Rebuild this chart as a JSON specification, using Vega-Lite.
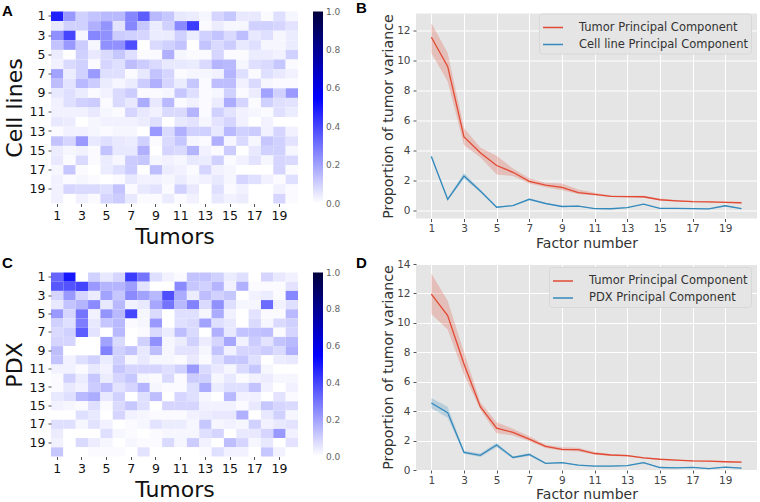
{"$schema":"https://vega.github.io/schema/vega-lite/v6.json","padding":{"left":2,"top":0.5,"right":0,"bottom":0},"background":"white","spacing":15,
"config":{"font":"DejaVu Sans","view":{"stroke":null}},
"datasets":{
"a":[
{"r":1,"t":1,"v":0.48},{"r":1,"t":2,"v":0.22},{"r":1,"t":3,"v":0.1},{"r":1,"t":4,"v":0.13},{"r":1,"t":5,"v":0.15},{"r":1,"t":6,"v":0.15},{"r":1,"t":7,"v":0.26},{"r":1,"t":8,"v":0.35},{"r":1,"t":9,"v":0.15},{"r":1,"t":10,"v":0.12},{"r":1,"t":11,"v":0.05},{"r":1,"t":12,"v":0.04},{"r":1,"t":13,"v":0.02},{"r":1,"t":14,"v":0.09},{"r":1,"t":15,"v":0.12},{"r":1,"t":16,"v":0.05},{"r":1,"t":17,"v":0.05},{"r":1,"t":18,"v":0.01},{"r":1,"t":19,"v":0.07},{"r":1,"t":20,"v":0.02},
{"r":2,"t":1,"v":0.05},{"r":2,"t":2,"v":0.1},{"r":2,"t":3,"v":0.1},{"r":2,"t":4,"v":0.17},{"r":2,"t":5,"v":0.23},{"r":2,"t":6,"v":0.06},{"r":2,"t":7,"v":0.26},{"r":2,"t":8,"v":0.12},{"r":2,"t":9,"v":0.04},{"r":2,"t":10,"v":0.1},{"r":2,"t":11,"v":0.25},{"r":2,"t":12,"v":0.42},{"r":2,"t":13,"v":0.01},{"r":2,"t":14,"v":0.04},{"r":2,"t":15,"v":0.02},{"r":2,"t":16,"v":0.02},{"r":2,"t":17,"v":0.1},{"r":2,"t":18,"v":0.1},{"r":2,"t":19,"v":0.09},{"r":2,"t":20,"v":0.06},
{"r":3,"t":1,"v":0.24},{"r":3,"t":2,"v":0.4},{"r":3,"t":3,"v":0.02},{"r":3,"t":4,"v":0.26},{"r":3,"t":5,"v":0.24},{"r":3,"t":6,"v":0.11},{"r":3,"t":7,"v":0.1},{"r":3,"t":8,"v":0.09},{"r":3,"t":9,"v":0.04},{"r":3,"t":10,"v":0.04},{"r":3,"t":11,"v":0.1},{"r":3,"t":12,"v":0.04},{"r":3,"t":13,"v":0.1},{"r":3,"t":14,"v":0.13},{"r":3,"t":15,"v":0.08},{"r":3,"t":16,"v":0.14},{"r":3,"t":17,"v":0.05},{"r":3,"t":18,"v":0.07},{"r":3,"t":19,"v":0.02},{"r":3,"t":20,"v":0.04},
{"r":4,"t":1,"v":0.13},{"r":4,"t":2,"v":0.22},{"r":4,"t":3,"v":0.11},{"r":4,"t":4,"v":0.02},{"r":4,"t":5,"v":0.24},{"r":4,"t":6,"v":0.24},{"r":4,"t":7,"v":0.38},{"r":4,"t":8,"v":0},{"r":4,"t":9,"v":0.08},{"r":4,"t":10,"v":0.1},{"r":4,"t":11,"v":0.13},{"r":4,"t":12,"v":0},{"r":4,"t":13,"v":0.13},{"r":4,"t":14,"v":0.08},{"r":4,"t":15,"v":0.11},{"r":4,"t":16,"v":0.05},{"r":4,"t":17,"v":0.07},{"r":4,"t":18,"v":0.02},{"r":4,"t":19,"v":0.02},{"r":4,"t":20,"v":0.04},
{"r":5,"t":1,"v":0.04},{"r":5,"t":2,"v":0},{"r":5,"t":3,"v":0.1},{"r":5,"t":4,"v":0.05},{"r":5,"t":5,"v":0.08},{"r":5,"t":6,"v":0.12},{"r":5,"t":7,"v":0.07},{"r":5,"t":8,"v":0.01},{"r":5,"t":9,"v":0.01},{"r":5,"t":10,"v":0.17},{"r":5,"t":11,"v":0.02},{"r":5,"t":12,"v":0.01},{"r":5,"t":13,"v":0.01},{"r":5,"t":14,"v":0.09},{"r":5,"t":15,"v":0.01},{"r":5,"t":16,"v":0.01},{"r":5,"t":17,"v":0.04},{"r":5,"t":18,"v":0.04},{"r":5,"t":19,"v":0.03},{"r":5,"t":20,"v":0.1},
{"r":6,"t":1,"v":0.03},{"r":6,"t":2,"v":0.08},{"r":6,"t":3,"v":0.1},{"r":6,"t":4,"v":0.01},{"r":6,"t":5,"v":0.09},{"r":6,"t":6,"v":0.07},{"r":6,"t":7,"v":0.14},{"r":6,"t":8,"v":0.11},{"r":6,"t":9,"v":0.08},{"r":6,"t":10,"v":0.05},{"r":6,"t":11,"v":0.05},{"r":6,"t":12,"v":0.04},{"r":6,"t":13,"v":0.08},{"r":6,"t":14,"v":0.16},{"r":6,"t":15,"v":0.15},{"r":6,"t":16,"v":0.02},{"r":6,"t":17,"v":0.07},{"r":6,"t":18,"v":0.08},{"r":6,"t":19,"v":0.12},{"r":6,"t":20,"v":0.01},
{"r":7,"t":1,"v":0.2},{"r":7,"t":2,"v":0.04},{"r":7,"t":3,"v":0.1},{"r":7,"t":4,"v":0.22},{"r":7,"t":5,"v":0.07},{"r":7,"t":6,"v":0.07},{"r":7,"t":7,"v":0.01},{"r":7,"t":8,"v":0.05},{"r":7,"t":9,"v":0.13},{"r":7,"t":10,"v":0.09},{"r":7,"t":11,"v":0.01},{"r":7,"t":12,"v":0.02},{"r":7,"t":13,"v":0.02},{"r":7,"t":14,"v":0.03},{"r":7,"t":15,"v":0.16},{"r":7,"t":16,"v":0.07},{"r":7,"t":17,"v":0.01},{"r":7,"t":18,"v":0.07},{"r":7,"t":19,"v":0.05},{"r":7,"t":20,"v":0.03},
{"r":8,"t":1,"v":0.14},{"r":8,"t":2,"v":0.06},{"r":8,"t":3,"v":0.15},{"r":8,"t":4,"v":0.11},{"r":8,"t":5,"v":0.04},{"r":8,"t":6,"v":0.02},{"r":8,"t":7,"v":0.04},{"r":8,"t":8,"v":0.11},{"r":8,"t":9,"v":0.17},{"r":8,"t":10,"v":0.09},{"r":8,"t":11,"v":0.04},{"r":8,"t":12,"v":0.12},{"r":8,"t":13,"v":0.01},{"r":8,"t":14,"v":0.14},{"r":8,"t":15,"v":0.14},{"r":8,"t":16,"v":0.03},{"r":8,"t":17,"v":0.08},{"r":8,"t":18,"v":0.02},{"r":8,"t":19,"v":0.01},{"r":8,"t":20,"v":0.01},
{"r":9,"t":1,"v":0.05},{"r":9,"t":2,"v":0.07},{"r":9,"t":3,"v":0.04},{"r":9,"t":4,"v":0.01},{"r":9,"t":5,"v":0.03},{"r":9,"t":6,"v":0.08},{"r":9,"t":7,"v":0.11},{"r":9,"t":8,"v":0.01},{"r":9,"t":9,"v":0.01},{"r":9,"t":10,"v":0.02},{"r":9,"t":11,"v":0.12},{"r":9,"t":12,"v":0.07},{"r":9,"t":13,"v":0.01},{"r":9,"t":14,"v":0.02},{"r":9,"t":15,"v":0.1},{"r":9,"t":16,"v":0.01},{"r":9,"t":17,"v":0.04},{"r":9,"t":18,"v":0.2},{"r":9,"t":19,"v":0.1},{"r":9,"t":20,"v":0.22},
{"r":10,"t":1,"v":0.03},{"r":10,"t":2,"v":0.07},{"r":10,"t":3,"v":0.1},{"r":10,"t":4,"v":0.11},{"r":10,"t":5,"v":0.01},{"r":10,"t":6,"v":0.08},{"r":10,"t":7,"v":0.05},{"r":10,"t":8,"v":0.18},{"r":10,"t":9,"v":0.05},{"r":10,"t":10,"v":0.15},{"r":10,"t":11,"v":0.01},{"r":10,"t":12,"v":0.03},{"r":10,"t":13,"v":0.01},{"r":10,"t":14,"v":0.04},{"r":10,"t":15,"v":0.18},{"r":10,"t":16,"v":0.09},{"r":10,"t":17,"v":0.01},{"r":10,"t":18,"v":0.1},{"r":10,"t":19,"v":0.07},{"r":10,"t":20,"v":0.06},
{"r":11,"t":1,"v":0.03},{"r":11,"t":2,"v":0.03},{"r":11,"t":3,"v":0.03},{"r":11,"t":4,"v":0.05},{"r":11,"t":5,"v":0.02},{"r":11,"t":6,"v":0.01},{"r":11,"t":7,"v":0.09},{"r":11,"t":8,"v":0.05},{"r":11,"t":9,"v":0.03},{"r":11,"t":10,"v":0.08},{"r":11,"t":11,"v":0.08},{"r":11,"t":12,"v":0.16},{"r":11,"t":13,"v":0.01},{"r":11,"t":14,"v":0.1},{"r":11,"t":15,"v":0.06},{"r":11,"t":16,"v":0.03},{"r":11,"t":17,"v":0.02},{"r":11,"t":18,"v":0.01},{"r":11,"t":19,"v":0.07},{"r":11,"t":20,"v":0.04},
{"r":12,"t":1,"v":0.05},{"r":12,"t":2,"v":0.04},{"r":12,"t":3,"v":0},{"r":12,"t":4,"v":0.02},{"r":12,"t":5,"v":0.03},{"r":12,"t":6,"v":0.03},{"r":12,"t":7,"v":0.03},{"r":12,"t":8,"v":0.04},{"r":12,"t":9,"v":0.07},{"r":12,"t":10,"v":0},{"r":12,"t":11,"v":0.05},{"r":12,"t":12,"v":0.06},{"r":12,"t":13,"v":0.02},{"r":12,"t":14,"v":0.06},{"r":12,"t":15,"v":0.09},{"r":12,"t":16,"v":0.03},{"r":12,"t":17,"v":0},{"r":12,"t":18,"v":0.03},{"r":12,"t":19,"v":0},{"r":12,"t":20,"v":0},
{"r":13,"t":1,"v":0.01},{"r":13,"t":2,"v":0.03},{"r":13,"t":3,"v":0.03},{"r":13,"t":4,"v":0.02},{"r":13,"t":5,"v":0.01},{"r":13,"t":6,"v":0.02},{"r":13,"t":7,"v":0.02},{"r":13,"t":8,"v":0},{"r":13,"t":9,"v":0.22},{"r":13,"t":10,"v":0.08},{"r":13,"t":11,"v":0.17},{"r":13,"t":12,"v":0.1},{"r":13,"t":13,"v":0.1},{"r":13,"t":14,"v":0.05},{"r":13,"t":15,"v":0.15},{"r":13,"t":16,"v":0.1},{"r":13,"t":17,"v":0.11},{"r":13,"t":18,"v":0.03},{"r":13,"t":19,"v":0.09},{"r":13,"t":20,"v":0.03},
{"r":14,"t":1,"v":0.13},{"r":14,"t":2,"v":0.09},{"r":14,"t":3,"v":0.22},{"r":14,"t":4,"v":0.05},{"r":14,"t":5,"v":0.07},{"r":14,"t":6,"v":0.05},{"r":14,"t":7,"v":0.04},{"r":14,"t":8,"v":0.1},{"r":14,"t":9,"v":0.01},{"r":14,"t":10,"v":0.08},{"r":14,"t":11,"v":0.12},{"r":14,"t":12,"v":0.02},{"r":14,"t":13,"v":0.01},{"r":14,"t":14,"v":0.17},{"r":14,"t":15,"v":0.02},{"r":14,"t":16,"v":0.08},{"r":14,"t":17,"v":0.02},{"r":14,"t":18,"v":0.12},{"r":14,"t":19,"v":0.1},{"r":14,"t":20,"v":0.06},
{"r":15,"t":1,"v":0.04},{"r":15,"t":2,"v":0.02},{"r":15,"t":3,"v":0.03},{"r":15,"t":4,"v":0.01},{"r":15,"t":5,"v":0.13},{"r":15,"t":6,"v":0.05},{"r":15,"t":7,"v":0.05},{"r":15,"t":8,"v":0.17},{"r":15,"t":9,"v":0},{"r":15,"t":10,"v":0.09},{"r":15,"t":11,"v":0.08},{"r":15,"t":12,"v":0.16},{"r":15,"t":13,"v":0.03},{"r":15,"t":14,"v":0.01},{"r":15,"t":15,"v":0.11},{"r":15,"t":16,"v":0},{"r":15,"t":17,"v":0.05},{"r":15,"t":18,"v":0.1},{"r":15,"t":19,"v":0.1},{"r":15,"t":20,"v":0.02},
{"r":16,"t":1,"v":0.05},{"r":16,"t":2,"v":0.01},{"r":16,"t":3,"v":0.08},{"r":16,"t":4,"v":0.01},{"r":16,"t":5,"v":0.04},{"r":16,"t":6,"v":0.02},{"r":16,"t":7,"v":0.11},{"r":16,"t":8,"v":0.12},{"r":16,"t":9,"v":0.02},{"r":16,"t":10,"v":0.03},{"r":16,"t":11,"v":0.02},{"r":16,"t":12,"v":0.05},{"r":16,"t":13,"v":0.04},{"r":16,"t":14,"v":0.1},{"r":16,"t":15,"v":0.01},{"r":16,"t":16,"v":0.03},{"r":16,"t":17,"v":0.06},{"r":16,"t":18,"v":0.02},{"r":16,"t":19,"v":0.09},{"r":16,"t":20,"v":0.08},
{"r":17,"t":1,"v":0.02},{"r":17,"t":2,"v":0.12},{"r":17,"t":3,"v":0.01},{"r":17,"t":4,"v":0},{"r":17,"t":5,"v":0.04},{"r":17,"t":6,"v":0.07},{"r":17,"t":7,"v":0.11},{"r":17,"t":8,"v":0},{"r":17,"t":9,"v":0.14},{"r":17,"t":10,"v":0.04},{"r":17,"t":11,"v":0.03},{"r":17,"t":12,"v":0.01},{"r":17,"t":13,"v":0.09},{"r":17,"t":14,"v":0.03},{"r":17,"t":15,"v":0.02},{"r":17,"t":16,"v":0},{"r":17,"t":17,"v":0},{"r":17,"t":18,"v":0},{"r":17,"t":19,"v":0.09},{"r":17,"t":20,"v":0.01},
{"r":18,"t":1,"v":0.03},{"r":18,"t":2,"v":0.01},{"r":18,"t":3,"v":0.02},{"r":18,"t":4,"v":0.01},{"r":18,"t":5,"v":0},{"r":18,"t":6,"v":0.01},{"r":18,"t":7,"v":0.05},{"r":18,"t":8,"v":0.03},{"r":18,"t":9,"v":0.03},{"r":18,"t":10,"v":0.02},{"r":18,"t":11,"v":0.04},{"r":18,"t":12,"v":0.02},{"r":18,"t":13,"v":0.03},{"r":18,"t":14,"v":0.05},{"r":18,"t":15,"v":0.02},{"r":18,"t":16,"v":0.09},{"r":18,"t":17,"v":0.07},{"r":18,"t":18,"v":0.03},{"r":18,"t":19,"v":0.01},{"r":18,"t":20,"v":0.07},
{"r":19,"t":1,"v":0.03},{"r":19,"t":2,"v":0.09},{"r":19,"t":3,"v":0.08},{"r":19,"t":4,"v":0.08},{"r":19,"t":5,"v":0.07},{"r":19,"t":6,"v":0.13},{"r":19,"t":7,"v":0.01},{"r":19,"t":8,"v":0.05},{"r":19,"t":9,"v":0.06},{"r":19,"t":10,"v":0.01},{"r":19,"t":11,"v":0.1},{"r":19,"t":12,"v":0.05},{"r":19,"t":13,"v":0},{"r":19,"t":14,"v":0.07},{"r":19,"t":15,"v":0.01},{"r":19,"t":16,"v":0.03},{"r":19,"t":17,"v":0},{"r":19,"t":18,"v":0},{"r":19,"t":19,"v":0.03},{"r":19,"t":20,"v":0.01},
{"r":20,"t":1,"v":0.03},{"r":20,"t":2,"v":0},{"r":20,"t":3,"v":0.03},{"r":20,"t":4,"v":0.01},{"r":20,"t":5,"v":0.09},{"r":20,"t":6,"v":0.11},{"r":20,"t":7,"v":0.05},{"r":20,"t":8,"v":0.01},{"r":20,"t":9,"v":0.01},{"r":20,"t":10,"v":0.04},{"r":20,"t":11,"v":0.01},{"r":20,"t":12,"v":0.03},{"r":20,"t":13,"v":0},{"r":20,"t":14,"v":0.05},{"r":20,"t":15,"v":0.03},{"r":20,"t":16,"v":0.04},{"r":20,"t":17,"v":0},{"r":20,"t":18,"v":0},{"r":20,"t":19,"v":0.09},{"r":20,"t":20,"v":0.01}],
"c":[
{"r":1,"t":1,"v":0.33},{"r":1,"t":2,"v":0.5},{"r":1,"t":3,"v":0},{"r":1,"t":4,"v":0.1},{"r":1,"t":5,"v":0.05},{"r":1,"t":6,"v":0.09},{"r":1,"t":7,"v":0.42},{"r":1,"t":8,"v":0.3},{"r":1,"t":9,"v":0.07},{"r":1,"t":10,"v":0.03},{"r":1,"t":11,"v":0.01},{"r":1,"t":12,"v":0.13},{"r":1,"t":13,"v":0.13},{"r":1,"t":14,"v":0.1},{"r":1,"t":15,"v":0.04},{"r":1,"t":16,"v":0.07},{"r":1,"t":17,"v":0},{"r":1,"t":18,"v":0.09},{"r":1,"t":19,"v":0.05},{"r":1,"t":20,"v":0.03},
{"r":2,"t":1,"v":0.36},{"r":2,"t":2,"v":0.37},{"r":2,"t":3,"v":0.4},{"r":2,"t":4,"v":0.22},{"r":2,"t":5,"v":0.16},{"r":2,"t":6,"v":0.16},{"r":2,"t":7,"v":0.21},{"r":2,"t":8,"v":0.06},{"r":2,"t":9,"v":0},{"r":2,"t":10,"v":0},{"r":2,"t":11,"v":0.25},{"r":2,"t":12,"v":0.12},{"r":2,"t":13,"v":0.1},{"r":2,"t":14,"v":0.16},{"r":2,"t":15,"v":0.03},{"r":2,"t":16,"v":0.17},{"r":2,"t":17,"v":0.01},{"r":2,"t":18,"v":0.01},{"r":2,"t":19,"v":0.01},{"r":2,"t":20,"v":0.06},
{"r":3,"t":1,"v":0.09},{"r":3,"t":2,"v":0.22},{"r":3,"t":3,"v":0.09},{"r":3,"t":4,"v":0.04},{"r":3,"t":5,"v":0.2},{"r":3,"t":6,"v":0.12},{"r":3,"t":7,"v":0.25},{"r":3,"t":8,"v":0.2},{"r":3,"t":9,"v":0.15},{"r":3,"t":10,"v":0.38},{"r":3,"t":11,"v":0.18},{"r":3,"t":12,"v":0.04},{"r":3,"t":13,"v":0.14},{"r":3,"t":14,"v":0.1},{"r":3,"t":15,"v":0.12},{"r":3,"t":16,"v":0},{"r":3,"t":17,"v":0.03},{"r":3,"t":18,"v":0.04},{"r":3,"t":19,"v":0.01},{"r":3,"t":20,"v":0.26},
{"r":4,"t":1,"v":0.05},{"r":4,"t":2,"v":0.13},{"r":4,"t":3,"v":0.16},{"r":4,"t":4,"v":0.25},{"r":4,"t":5,"v":0.05},{"r":4,"t":6,"v":0.15},{"r":4,"t":7,"v":0.03},{"r":4,"t":8,"v":0.05},{"r":4,"t":9,"v":0.19},{"r":4,"t":10,"v":0.3},{"r":4,"t":11,"v":0.15},{"r":4,"t":12,"v":0.27},{"r":4,"t":13,"v":0.08},{"r":4,"t":14,"v":0.24},{"r":4,"t":15,"v":0.07},{"r":4,"t":16,"v":0.02},{"r":4,"t":17,"v":0.02},{"r":4,"t":18,"v":0.32},{"r":4,"t":19,"v":0.03},{"r":4,"t":20,"v":0.07},
{"r":5,"t":1,"v":0.22},{"r":5,"t":2,"v":0.09},{"r":5,"t":3,"v":0.3},{"r":5,"t":4,"v":0.03},{"r":5,"t":5,"v":0.23},{"r":5,"t":6,"v":0.15},{"r":5,"t":7,"v":0.4},{"r":5,"t":8,"v":0.02},{"r":5,"t":9,"v":0.08},{"r":5,"t":10,"v":0},{"r":5,"t":11,"v":0.07},{"r":5,"t":12,"v":0.07},{"r":5,"t":13,"v":0.02},{"r":5,"t":14,"v":0.18},{"r":5,"t":15,"v":0.03},{"r":5,"t":16,"v":0},{"r":5,"t":17,"v":0.06},{"r":5,"t":18,"v":0.01},{"r":5,"t":19,"v":0.01},{"r":5,"t":20,"v":0.15},
{"r":6,"t":1,"v":0.1},{"r":6,"t":2,"v":0.07},{"r":6,"t":3,"v":0.28},{"r":6,"t":4,"v":0.05},{"r":6,"t":5,"v":0.12},{"r":6,"t":6,"v":0.15},{"r":6,"t":7,"v":0.01},{"r":6,"t":8,"v":0.02},{"r":6,"t":9,"v":0.22},{"r":6,"t":10,"v":0},{"r":6,"t":11,"v":0.07},{"r":6,"t":12,"v":0.08},{"r":6,"t":13,"v":0.2},{"r":6,"t":14,"v":0.07},{"r":6,"t":15,"v":0.05},{"r":6,"t":16,"v":0},{"r":6,"t":17,"v":0.08},{"r":6,"t":18,"v":0.02},{"r":6,"t":19,"v":0.08},{"r":6,"t":20,"v":0.1},
{"r":7,"t":1,"v":0.08},{"r":7,"t":2,"v":0.1},{"r":7,"t":3,"v":0.35},{"r":7,"t":4,"v":0.06},{"r":7,"t":5,"v":0},{"r":7,"t":6,"v":0.15},{"r":7,"t":7,"v":0},{"r":7,"t":8,"v":0.01},{"r":7,"t":9,"v":0.08},{"r":7,"t":10,"v":0.04},{"r":7,"t":11,"v":0.14},{"r":7,"t":12,"v":0.08},{"r":7,"t":13,"v":0},{"r":7,"t":14,"v":0.17},{"r":7,"t":15,"v":0.05},{"r":7,"t":16,"v":0.13},{"r":7,"t":17,"v":0.13},{"r":7,"t":18,"v":0.14},{"r":7,"t":19,"v":0.01},{"r":7,"t":20,"v":0.09},
{"r":8,"t":1,"v":0.09},{"r":8,"t":2,"v":0.09},{"r":8,"t":3,"v":0},{"r":8,"t":4,"v":0},{"r":8,"t":5,"v":0.2},{"r":8,"t":6,"v":0.08},{"r":8,"t":7,"v":0},{"r":8,"t":8,"v":0.1},{"r":8,"t":9,"v":0.24},{"r":8,"t":10,"v":0.02},{"r":8,"t":11,"v":0.04},{"r":8,"t":12,"v":0.1},{"r":8,"t":13,"v":0.04},{"r":8,"t":14,"v":0.09},{"r":8,"t":15,"v":0.19},{"r":8,"t":16,"v":0.03},{"r":8,"t":17,"v":0.11},{"r":8,"t":18,"v":0.06},{"r":8,"t":19,"v":0.13},{"r":8,"t":20,"v":0.15},
{"r":9,"t":1,"v":0.14},{"r":9,"t":2,"v":0},{"r":9,"t":3,"v":0},{"r":9,"t":4,"v":0},{"r":9,"t":5,"v":0.27},{"r":9,"t":6,"v":0.1},{"r":9,"t":7,"v":0.13},{"r":9,"t":8,"v":0.05},{"r":9,"t":9,"v":0.14},{"r":9,"t":10,"v":0.02},{"r":9,"t":11,"v":0.06},{"r":9,"t":12,"v":0.06},{"r":9,"t":13,"v":0.02},{"r":9,"t":14,"v":0.13},{"r":9,"t":15,"v":0.03},{"r":9,"t":16,"v":0.09},{"r":9,"t":17,"v":0.09},{"r":9,"t":18,"v":0.11},{"r":9,"t":19,"v":0.08},{"r":9,"t":20,"v":0.17},
{"r":10,"t":1,"v":0.13},{"r":10,"t":2,"v":0.03},{"r":10,"t":3,"v":0.07},{"r":10,"t":4,"v":0.1},{"r":10,"t":5,"v":0.04},{"r":10,"t":6,"v":0.1},{"r":10,"t":7,"v":0.02},{"r":10,"t":8,"v":0.05},{"r":10,"t":9,"v":0.02},{"r":10,"t":10,"v":0.02},{"r":10,"t":11,"v":0.01},{"r":10,"t":12,"v":0.05},{"r":10,"t":13,"v":0.01},{"r":10,"t":14,"v":0.07},{"r":10,"t":15,"v":0.12},{"r":10,"t":16,"v":0.12},{"r":10,"t":17,"v":0.07},{"r":10,"t":18,"v":0},{"r":10,"t":19,"v":0.04},{"r":10,"t":20,"v":0.05},
{"r":11,"t":1,"v":0.03},{"r":11,"t":2,"v":0.03},{"r":11,"t":3,"v":0.01},{"r":11,"t":4,"v":0.05},{"r":11,"t":5,"v":0.03},{"r":11,"t":6,"v":0.12},{"r":11,"t":7,"v":0.09},{"r":11,"t":8,"v":0.09},{"r":11,"t":9,"v":0.09},{"r":11,"t":10,"v":0.07},{"r":11,"t":11,"v":0.1},{"r":11,"t":12,"v":0.22},{"r":11,"t":13,"v":0.08},{"r":11,"t":14,"v":0.05},{"r":11,"t":15,"v":0.02},{"r":11,"t":16,"v":0.08},{"r":11,"t":17,"v":0.12},{"r":11,"t":18,"v":0.02},{"r":11,"t":19,"v":0},{"r":11,"t":20,"v":0},
{"r":12,"t":1,"v":0.01},{"r":12,"t":2,"v":0.1},{"r":12,"t":3,"v":0.04},{"r":12,"t":4,"v":0.12},{"r":12,"t":5,"v":0.04},{"r":12,"t":6,"v":0.09},{"r":12,"t":7,"v":0.12},{"r":12,"t":8,"v":0.02},{"r":12,"t":9,"v":0.01},{"r":12,"t":10,"v":0.08},{"r":12,"t":11,"v":0.01},{"r":12,"t":12,"v":0.11},{"r":12,"t":13,"v":0.1},{"r":12,"t":14,"v":0.02},{"r":12,"t":15,"v":0.05},{"r":12,"t":16,"v":0.01},{"r":12,"t":17,"v":0.03},{"r":12,"t":18,"v":0.04},{"r":12,"t":19,"v":0.02},{"r":12,"t":20,"v":0.02},
{"r":13,"t":1,"v":0.01},{"r":13,"t":2,"v":0.05},{"r":13,"t":3,"v":0.03},{"r":13,"t":4,"v":0.11},{"r":13,"t":5,"v":0.14},{"r":13,"t":6,"v":0.06},{"r":13,"t":7,"v":0.09},{"r":13,"t":8,"v":0.16},{"r":13,"t":9,"v":0.02},{"r":13,"t":10,"v":0.01},{"r":13,"t":11,"v":0.01},{"r":13,"t":12,"v":0.07},{"r":13,"t":13,"v":0.18},{"r":13,"t":14,"v":0.04},{"r":13,"t":15,"v":0.07},{"r":13,"t":16,"v":0.07},{"r":13,"t":17,"v":0.13},{"r":13,"t":18,"v":0.03},{"r":13,"t":19,"v":0},{"r":13,"t":20,"v":0.03},
{"r":14,"t":1,"v":0.05},{"r":14,"t":2,"v":0.07},{"r":14,"t":3,"v":0.15},{"r":14,"t":4,"v":0.18},{"r":14,"t":5,"v":0.05},{"r":14,"t":6,"v":0.1},{"r":14,"t":7,"v":0},{"r":14,"t":8,"v":0.07},{"r":14,"t":9,"v":0.14},{"r":14,"t":10,"v":0},{"r":14,"t":11,"v":0.09},{"r":14,"t":12,"v":0.07},{"r":14,"t":13,"v":0.02},{"r":14,"t":14,"v":0},{"r":14,"t":15,"v":0.15},{"r":14,"t":16,"v":0.03},{"r":14,"t":17,"v":0.03},{"r":14,"t":18,"v":0},{"r":14,"t":19,"v":0.06},{"r":14,"t":20,"v":0.01},
{"r":15,"t":1,"v":0.03},{"r":15,"t":2,"v":0.02},{"r":15,"t":3,"v":0.01},{"r":15,"t":4,"v":0.07},{"r":15,"t":5,"v":0.01},{"r":15,"t":6,"v":0.08},{"r":15,"t":7,"v":0.12},{"r":15,"t":8,"v":0.07},{"r":15,"t":9,"v":0},{"r":15,"t":10,"v":0.09},{"r":15,"t":11,"v":0.09},{"r":15,"t":12,"v":0.09},{"r":15,"t":13,"v":0.03},{"r":15,"t":14,"v":0.03},{"r":15,"t":15,"v":0.03},{"r":15,"t":16,"v":0.01},{"r":15,"t":17,"v":0.05},{"r":15,"t":18,"v":0.12},{"r":15,"t":19,"v":0.09},{"r":15,"t":20,"v":0.08},
{"r":16,"t":1,"v":0},{"r":16,"t":2,"v":0},{"r":16,"t":3,"v":0.07},{"r":16,"t":4,"v":0.05},{"r":16,"t":5,"v":0},{"r":16,"t":6,"v":0.09},{"r":16,"t":7,"v":0.03},{"r":16,"t":8,"v":0.02},{"r":16,"t":9,"v":0.01},{"r":16,"t":10,"v":0.01},{"r":16,"t":11,"v":0.01},{"r":16,"t":12,"v":0.03},{"r":16,"t":13,"v":0.04},{"r":16,"t":14,"v":0.05},{"r":16,"t":15,"v":0.05},{"r":16,"t":16,"v":0.17},{"r":16,"t":17,"v":0},{"r":16,"t":18,"v":0.05},{"r":16,"t":19,"v":0.1},{"r":16,"t":20,"v":0.02},
{"r":17,"t":1,"v":0.07},{"r":17,"t":2,"v":0.07},{"r":17,"t":3,"v":0.02},{"r":17,"t":4,"v":0.06},{"r":17,"t":5,"v":0.03},{"r":17,"t":6,"v":0},{"r":17,"t":7,"v":0.01},{"r":17,"t":8,"v":0.02},{"r":17,"t":9,"v":0.06},{"r":17,"t":10,"v":0.04},{"r":17,"t":11,"v":0.04},{"r":17,"t":12,"v":0.02},{"r":17,"t":13,"v":0.12},{"r":17,"t":14,"v":0.02},{"r":17,"t":15,"v":0.03},{"r":17,"t":16,"v":0.02},{"r":17,"t":17,"v":0.1},{"r":17,"t":18,"v":0.03},{"r":17,"t":19,"v":0.05},{"r":17,"t":20,"v":0.06},
{"r":18,"t":1,"v":0.04},{"r":18,"t":2,"v":0},{"r":18,"t":3,"v":0},{"r":18,"t":4,"v":0},{"r":18,"t":5,"v":0.07},{"r":18,"t":6,"v":0.02},{"r":18,"t":7,"v":0.01},{"r":18,"t":8,"v":0},{"r":18,"t":9,"v":0.01},{"r":18,"t":10,"v":0.02},{"r":18,"t":11,"v":0.02},{"r":18,"t":12,"v":0.02},{"r":18,"t":13,"v":0.07},{"r":18,"t":14,"v":0.09},{"r":18,"t":15,"v":0},{"r":18,"t":16,"v":0.05},{"r":18,"t":17,"v":0.05},{"r":18,"t":18,"v":0.09},{"r":18,"t":19,"v":0.22},{"r":18,"t":20,"v":0.03},
{"r":19,"t":1,"v":0.03},{"r":19,"t":2,"v":0},{"r":19,"t":3,"v":0.08},{"r":19,"t":4,"v":0.04},{"r":19,"t":5,"v":0.02},{"r":19,"t":6,"v":0},{"r":19,"t":7,"v":0.02},{"r":19,"t":8,"v":0.01},{"r":19,"t":9,"v":0.01},{"r":19,"t":10,"v":0.08},{"r":19,"t":11,"v":0.02},{"r":19,"t":12,"v":0.11},{"r":19,"t":13,"v":0.03},{"r":19,"t":14,"v":0},{"r":19,"t":15,"v":0.14},{"r":19,"t":16,"v":0.09},{"r":19,"t":17,"v":0.02},{"r":19,"t":18,"v":0.05},{"r":19,"t":19,"v":0},{"r":19,"t":20,"v":0.06},
{"r":20,"t":1,"v":0.12},{"r":20,"t":2,"v":0},{"r":20,"t":3,"v":0},{"r":20,"t":4,"v":0.01},{"r":20,"t":5,"v":0.01},{"r":20,"t":6,"v":0.01},{"r":20,"t":7,"v":0},{"r":20,"t":8,"v":0.06},{"r":20,"t":9,"v":0},{"r":20,"t":10,"v":0},{"r":20,"t":11,"v":0},{"r":20,"t":12,"v":0},{"r":20,"t":13,"v":0.01},{"r":20,"t":14,"v":0.07},{"r":20,"t":15,"v":0.03},{"r":20,"t":16,"v":0.03},{"r":20,"t":17,"v":0},{"r":20,"t":18,"v":0.12},{"r":20,"t":19,"v":0.03},{"r":20,"t":20,"v":0}],
"b":[{"f":1,"s":"Tumor Principal Component","y":11.55,"lo":10.5,"hi":12.5},{"f":2,"s":"Tumor Principal Component","y":9.6,"lo":8.6,"hi":10.5},{"f":3,"s":"Tumor Principal Component","y":4.9,"lo":4.35,"hi":5.5},{"f":4,"s":"Tumor Principal Component","y":3.85,"lo":3.55,"hi":4.2},{"f":5,"s":"Tumor Principal Component","y":3.0,"lo":2.4,"hi":3.65},{"f":6,"s":"Tumor Principal Component","y":2.55,"lo":2.3,"hi":2.8},{"f":7,"s":"Tumor Principal Component","y":1.95,"lo":1.8,"hi":2.15},{"f":8,"s":"Tumor Principal Component","y":1.7,"lo":1.55,"hi":1.85},{"f":9,"s":"Tumor Principal Component","y":1.55,"lo":1.35,"hi":1.8},{"f":10,"s":"Tumor Principal Component","y":1.2,"lo":1.1,"hi":1.4},{"f":11,"s":"Tumor Principal Component","y":1.08,"lo":1.0,"hi":1.18},{"f":12,"s":"Tumor Principal Component","y":0.95,"lo":0.9,"hi":1.02},{"f":13,"s":"Tumor Principal Component","y":0.93,"lo":0.88,"hi":0.98},{"f":14,"s":"Tumor Principal Component","y":0.92,"lo":0.85,"hi":0.98},{"f":15,"s":"Tumor Principal Component","y":0.72,"lo":0.68,"hi":0.8},{"f":16,"s":"Tumor Principal Component","y":0.65,"lo":0.6,"hi":0.7},{"f":17,"s":"Tumor Principal Component","y":0.6,"lo":0.55,"hi":0.65},{"f":18,"s":"Tumor Principal Component","y":0.58,"lo":0.54,"hi":0.62},{"f":19,"s":"Tumor Principal Component","y":0.55,"lo":0.5,"hi":0.6},{"f":20,"s":"Tumor Principal Component","y":0.52,"lo":0.47,"hi":0.56},
{"f":1,"s":"Cell line Principal Component","y":3.6,"lo":3.5,"hi":3.72},{"f":2,"s":"Cell line Principal Component","y":0.75,"lo":0.67,"hi":0.83},{"f":3,"s":"Cell line Principal Component","y":2.3,"lo":2.12,"hi":2.5},{"f":4,"s":"Cell line Principal Component","y":1.3,"lo":1.22,"hi":1.4},{"f":5,"s":"Cell line Principal Component","y":0.22,"lo":0.18,"hi":0.26},{"f":6,"s":"Cell line Principal Component","y":0.33,"lo":0.3,"hi":0.37},{"f":7,"s":"Cell line Principal Component","y":0.75,"lo":0.7,"hi":0.8},{"f":8,"s":"Cell line Principal Component","y":0.47,"lo":0.44,"hi":0.5},{"f":9,"s":"Cell line Principal Component","y":0.27,"lo":0.24,"hi":0.3},{"f":10,"s":"Cell line Principal Component","y":0.3,"lo":0.27,"hi":0.33},{"f":11,"s":"Cell line Principal Component","y":0.13,"lo":0.11,"hi":0.15},{"f":12,"s":"Cell line Principal Component","y":0.12,"lo":0.1,"hi":0.14},{"f":13,"s":"Cell line Principal Component","y":0.2,"lo":0.18,"hi":0.22},{"f":14,"s":"Cell line Principal Component","y":0.43,"lo":0.4,"hi":0.46},{"f":15,"s":"Cell line Principal Component","y":0.14,"lo":0.12,"hi":0.16},{"f":16,"s":"Cell line Principal Component","y":0.15,"lo":0.13,"hi":0.17},{"f":17,"s":"Cell line Principal Component","y":0.13,"lo":0.11,"hi":0.15},{"f":18,"s":"Cell line Principal Component","y":0.11,"lo":0.09,"hi":0.13},{"f":19,"s":"Cell line Principal Component","y":0.32,"lo":0.29,"hi":0.35},{"f":20,"s":"Cell line Principal Component","y":0.13,"lo":0.11,"hi":0.15}],
"d":[{"f":1,"s":"Tumor Principal Component","y":11.95,"lo":10.6,"hi":13.35},{"f":2,"s":"Tumor Principal Component","y":10.5,"lo":9.55,"hi":11.5},{"f":3,"s":"Tumor Principal Component","y":7.2,"lo":6.5,"hi":8.0},{"f":4,"s":"Tumor Principal Component","y":4.3,"lo":4.1,"hi":4.6},{"f":5,"s":"Tumor Principal Component","y":2.85,"lo":2.5,"hi":3.25},{"f":6,"s":"Tumor Principal Component","y":2.55,"lo":2.35,"hi":2.8},{"f":7,"s":"Tumor Principal Component","y":2.1,"lo":1.95,"hi":2.3},{"f":8,"s":"Tumor Principal Component","y":1.6,"lo":1.5,"hi":1.72},{"f":9,"s":"Tumor Principal Component","y":1.4,"lo":1.3,"hi":1.55},{"f":10,"s":"Tumor Principal Component","y":1.38,"lo":1.25,"hi":1.52},{"f":11,"s":"Tumor Principal Component","y":1.12,"lo":1.05,"hi":1.22},{"f":12,"s":"Tumor Principal Component","y":1.02,"lo":0.95,"hi":1.08},{"f":13,"s":"Tumor Principal Component","y":0.98,"lo":0.92,"hi":1.04},{"f":14,"s":"Tumor Principal Component","y":0.82,"lo":0.78,"hi":0.88},{"f":15,"s":"Tumor Principal Component","y":0.73,"lo":0.7,"hi":0.77},{"f":16,"s":"Tumor Principal Component","y":0.67,"lo":0.63,"hi":0.7},{"f":17,"s":"Tumor Principal Component","y":0.62,"lo":0.58,"hi":0.66},{"f":18,"s":"Tumor Principal Component","y":0.6,"lo":0.56,"hi":0.63},{"f":19,"s":"Tumor Principal Component","y":0.56,"lo":0.52,"hi":0.6},{"f":20,"s":"Tumor Principal Component","y":0.53,"lo":0.5,"hi":0.57},
{"f":1,"s":"PDX Principal Component","y":4.55,"lo":4.2,"hi":4.9},{"f":2,"s":"PDX Principal Component","y":3.9,"lo":3.55,"hi":4.3},{"f":3,"s":"PDX Principal Component","y":1.2,"lo":1.1,"hi":1.3},{"f":4,"s":"PDX Principal Component","y":1.0,"lo":0.88,"hi":1.12},{"f":5,"s":"PDX Principal Component","y":1.7,"lo":1.55,"hi":1.85},{"f":6,"s":"PDX Principal Component","y":0.85,"lo":0.78,"hi":0.92},{"f":7,"s":"PDX Principal Component","y":1.05,"lo":0.95,"hi":1.15},{"f":8,"s":"PDX Principal Component","y":0.45,"lo":0.4,"hi":0.5},{"f":9,"s":"PDX Principal Component","y":0.5,"lo":0.45,"hi":0.55},{"f":10,"s":"PDX Principal Component","y":0.33,"lo":0.3,"hi":0.36},{"f":11,"s":"PDX Principal Component","y":0.27,"lo":0.24,"hi":0.3},{"f":12,"s":"PDX Principal Component","y":0.27,"lo":0.24,"hi":0.3},{"f":13,"s":"PDX Principal Component","y":0.3,"lo":0.27,"hi":0.33},{"f":14,"s":"PDX Principal Component","y":0.5,"lo":0.45,"hi":0.55},{"f":15,"s":"PDX Principal Component","y":0.17,"lo":0.14,"hi":0.2},{"f":16,"s":"PDX Principal Component","y":0.15,"lo":0.12,"hi":0.18},{"f":17,"s":"PDX Principal Component","y":0.18,"lo":0.15,"hi":0.21},{"f":18,"s":"PDX Principal Component","y":0.1,"lo":0.08,"hi":0.12},{"f":19,"s":"PDX Principal Component","y":0.2,"lo":0.17,"hi":0.23},{"f":20,"s":"PDX Principal Component","y":0.13,"lo":0.11,"hi":0.15}]},
"hconcat":[
{"vconcat":[
{"data":{"name":"a"},"width":247,"height":192,"title":{"text":"A","orient":"top","anchor":"start","frame":"group","font":"Liberation Sans","fontWeight":"bold","fontSize":15,"color":"#000","offset":0,"dx":-49,"dy":9},
"mark":{"type":"rect"},
"encoding":{"x":{"field":"t","type":"ordinal","scale":{"domain":[1,2,3,4,5,6,7,8,9,10,11,12,13,14,15,16,17,18,19,20],"paddingInner":0,"paddingOuter":0},"axis":{"values":[1,3,5,7,9,11,13,15,17,19],"labelAngle":0,"labelFontSize":12.5,"labelColor":"#111","tickColor":"#555","tickSize":3,"domain":false,"labelPadding":3,"title":"Tumors","titleFontSize":22,"titleFontWeight":"normal","titleColor":"#111","titlePadding":4}},
"y":{"field":"r","type":"ordinal","scale":{"domain":[1,2,3,4,5,6,7,8,9,10,11,12,13,14,15,16,17,18,19,20],"paddingInner":0,"paddingOuter":0},"axis":{"values":[1,3,5,7,9,11,13,15,17,19],"labelFontSize":12.5,"labelColor":"#111","tickColor":"#555","tickSize":3,"domain":false,"labelPadding":3,"title":"Cell lines","titleFontSize":22,"titleFontWeight":"normal","titleColor":"#111","titlePadding":3}},
"color":{"field":"v","type":"quantitative","scale":{"domain":[0,0.55,1],"range":["#ffffff","#0000ff","#00003c"],"interpolate":"rgb"},"legend":{"title":null,"orient":"right","offset":15,"gradientLength":192,"gradientThickness":10,"values":[0,0.2,0.4,0.6,0.8,1],"format":".1f","labelFontSize":9,"labelColor":"#666","labelOffset":3,"encode":{"labels":{"update":{"baseline":{"value":"middle"}}}}}}}},
{"data":{"name":"c"},"width":247,"height":184,"title":{"text":"C","orient":"top","anchor":"start","frame":"group","font":"Liberation Sans","fontWeight":"bold","fontSize":15,"color":"#000","offset":0,"dx":-49,"dy":0},
"mark":{"type":"rect"},
"encoding":{"x":{"field":"t","type":"ordinal","scale":{"domain":[1,2,3,4,5,6,7,8,9,10,11,12,13,14,15,16,17,18,19,20],"paddingInner":0,"paddingOuter":0},"axis":{"values":[1,3,5,7,9,11,13,15,17,19],"labelAngle":0,"labelFontSize":12.5,"labelColor":"#111","tickColor":"#555","tickSize":3,"domain":false,"labelPadding":3,"title":"Tumors","titleFontSize":22,"titleFontWeight":"normal","titleColor":"#111","titlePadding":4}},
"y":{"field":"r","type":"ordinal","scale":{"domain":[1,2,3,4,5,6,7,8,9,10,11,12,13,14,15,16,17,18,19,20],"paddingInner":0,"paddingOuter":0},"axis":{"values":[1,3,5,7,9,11,13,15,17,19],"labelFontSize":12.5,"labelColor":"#111","tickColor":"#555","tickSize":3,"domain":false,"labelPadding":3,"title":"PDX","titleFontSize":22,"titleFontWeight":"normal","titleColor":"#111","titlePadding":3}},
"color":{"field":"v","type":"quantitative","scale":{"domain":[0,0.55,1],"range":["#ffffff","#0000ff","#00003c"],"interpolate":"rgb"},"legend":{"title":null,"orient":"right","offset":15,"gradientLength":184,"gradientThickness":10,"values":[0,0.2,0.4,0.6,0.8,1],"format":".1f","labelFontSize":9,"labelColor":"#666","labelOffset":3,"encode":{"labels":{"update":{"baseline":{"value":"middle"}}}}}}}}
],"spacing":69,"bounds":"flush","resolve":{"scale":{"color":"independent"},"legend":{"color":"independent"}}},
{"vconcat":[
{"vconcat":[
{"width":341,"height":2,"data":{"values":[{"k":0}]},"mark":{"type":"rule","opacity":0},"encoding":{}},
{"data":{"name":"b"},"width":341,"height":205,"title":{"text":"B","orient":"top","anchor":"start","frame":"group","font":"Liberation Sans","fontWeight":"bold","fontSize":15,"color":"#000","offset":0,"dx":-60,"dy":2.5},
"view":{"fill":"#E5E5E5","stroke":null},
"encoding":{"x":{"field":"f","type":"quantitative","scale":{"domain":[0.06,20.95],"nice":false,"zero":false},"axis":{"values":[1,3,5,7,9,11,13,15,17,19],"tickCount":20,"format":"d","gridColor":"#fff","gridWidth":1,"domain":false,"tickColor":"#555","tickSize":3,"labelColor":"#444","labelFontSize":10.5,"labelPadding":2,"title":"Factor number","titleFontSize":14,"titleFontWeight":"normal","titleColor":"#333","titlePadding":2}},
"color":{"field":"s","type":"nominal","scale":{"domain":["Tumor Principal Component","Cell line Principal Component"],"range":["#E24A33","#348ABD"]},"legend":{"title":null,"orient":"none","legendX":123,"legendY":2,"fillColor":"#E5E5E5","strokeColor":"#D8D8D8","cornerRadius":3,"padding":3,"labelFontSize":11.5,"labelColor":"#333","symbolType":"stroke","symbolSize":400,"symbolStrokeWidth":1.5,"symbolOpacity":1,"labelLimit":300,"rowPadding":-2,"labelOffset":15}}},
"layer":[
{"mark":{"type":"area","opacity":0.25},"encoding":{"y":{"field":"lo","type":"quantitative","scale":{"domain":[-0.53,13.13],"nice":false,"zero":false},"axis":{"values":[0,2,4,6,8,10,12],"tickCount":20,"format":"d","gridColor":"#fff","gridWidth":1,"domain":false,"tickColor":"#555","tickSize":3,"labelColor":"#444","labelFontSize":10.5,"labelPadding":3,"title":"Proportion of tumor variance","titleFontSize":14.2,"titleFontWeight":"normal","titleColor":"#333","titlePadding":1}},"y2":{"field":"hi"}}},
{"mark":{"type":"line","strokeWidth":1.3},"encoding":{"y":{"field":"y","type":"quantitative"}}}
]}
],"spacing":0,"bounds":"flush"},
{"data":{"name":"d"},"width":341,"height":206,"title":{"text":"D","orient":"top","anchor":"start","frame":"group","font":"Liberation Sans","fontWeight":"bold","fontSize":15,"color":"#000","offset":0,"dx":-60,"dy":12},
"encoding":{"x":{"field":"f","type":"quantitative","scale":{"domain":[0.06,20.95],"nice":false,"zero":false},"axis":{"values":[1,3,5,7,9,11,13,15,17,19],"tickCount":20,"format":"d","gridColor":"#fff","gridWidth":1,"domain":false,"tickColor":"#555","tickSize":3,"labelColor":"#444","labelFontSize":10.5,"labelPadding":2,"title":"Factor number","titleFontSize":14,"titleFontWeight":"normal","titleColor":"#333","titlePadding":2}},
"color":{"field":"s","type":"nominal","scale":{"domain":["Tumor Principal Component","PDX Principal Component"],"range":["#E24A33","#348ABD"]},"legend":{"title":null,"orient":"none","legendX":133,"legendY":3,"fillColor":"#E5E5E5","strokeColor":"#D8D8D8","cornerRadius":3,"padding":3,"labelFontSize":11.5,"labelColor":"#333","symbolType":"stroke","symbolSize":400,"symbolStrokeWidth":1.5,"symbolOpacity":1,"labelLimit":300,"rowPadding":-2,"labelOffset":15}}},
"view":{"fill":"#E5E5E5","stroke":null},
"layer":[
{"mark":{"type":"area","opacity":0.25},"encoding":{"y":{"field":"lo","type":"quantitative","scale":{"domain":[0,14],"nice":false,"zero":false},"axis":{"values":[0,2,4,6,8,10,12,14],"tickCount":20,"format":"d","gridColor":"#fff","gridWidth":1,"domain":false,"tickColor":"#555","tickSize":3,"labelColor":"#444","labelFontSize":10.5,"labelPadding":3,"title":"Proportion of tumor variance","titleFontSize":14.2,"titleFontWeight":"normal","titleColor":"#333","titlePadding":1}},"y2":{"field":"hi"}}},
{"mark":{"type":"line","strokeWidth":1.3},"encoding":{"y":{"field":"y","type":"quantitative"}}}
]}
],"spacing":5.5,"resolve":{"scale":{"color":"independent"},"legend":{"color":"independent"}}}
]}
